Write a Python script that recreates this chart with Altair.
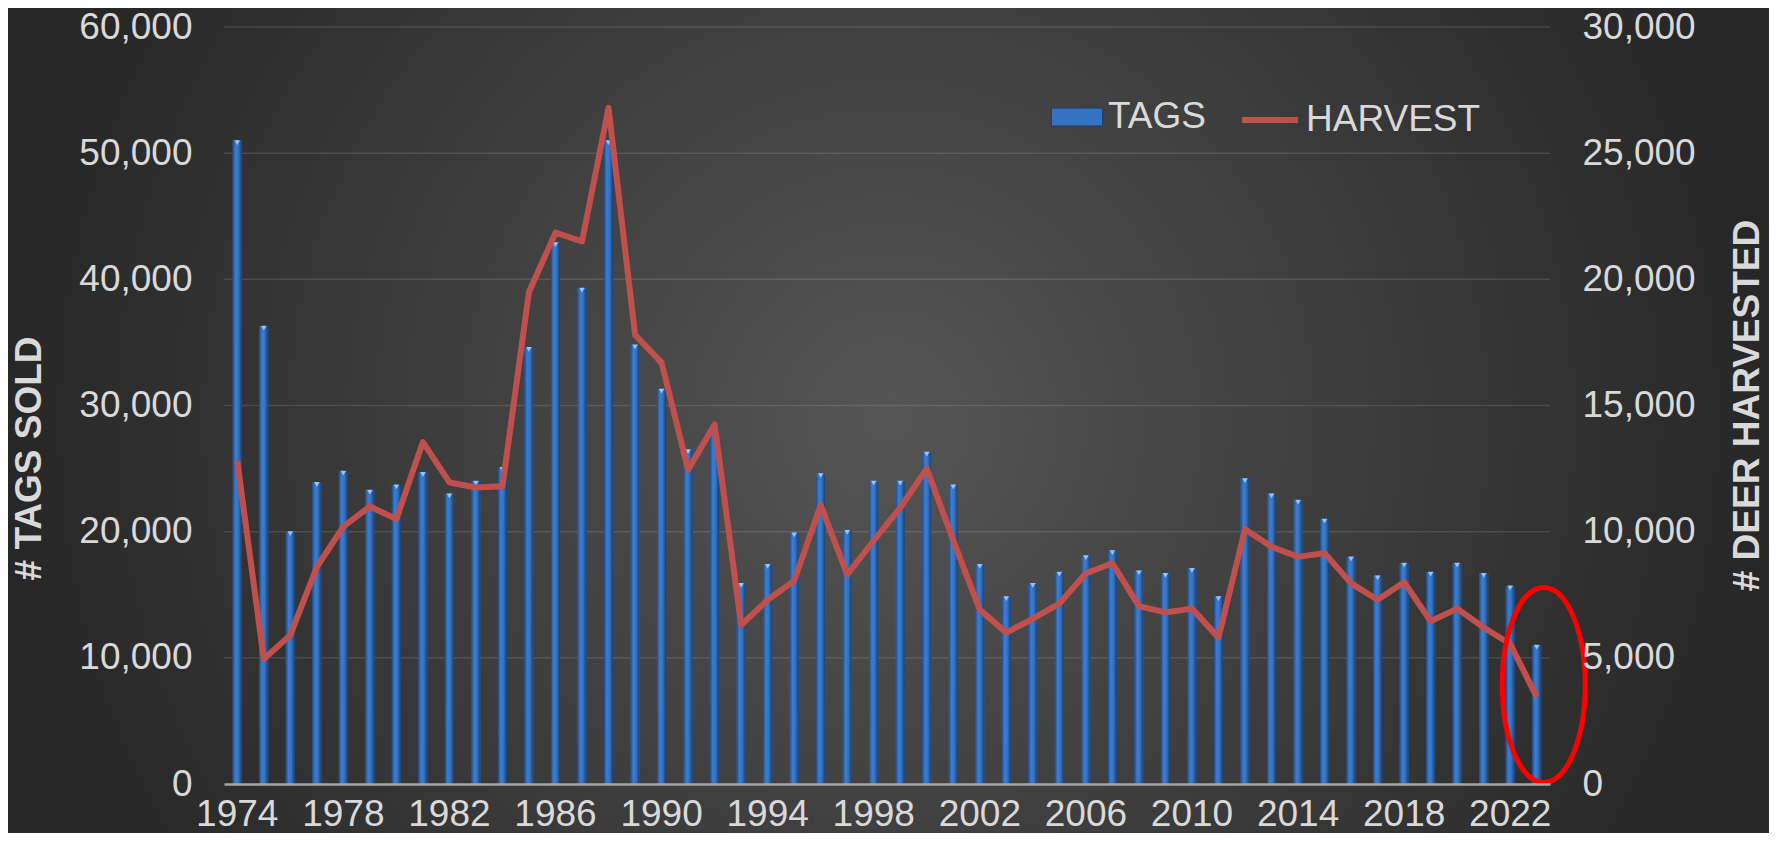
import altair as alt
import pandas as pd

# ---------------- data ----------------
years = list(range(1974, 2024))
tags = [51000, 36300, 20000, 23900, 24800, 23300, 23700, 24700, 23000, 24000,
        25100, 34600, 42900, 39300, 51000, 34800, 31300, 26500, 28200, 15900,
        17400, 19900, 24600, 20100, 24000, 24000, 26300, 23700, 17400, 14850,
        15900, 16800, 18100, 18500, 16900, 16700, 17100, 14850, 24200, 23000,
        22500, 21000, 18000, 16500, 17500, 16800, 17500, 16700, 15700, 11000]
harvest = [12800, 4950, 5900, 8600, 10200, 11000, 10500, 13550, 11950, 11750,
           11800, 19500, 21850, 21500, 26800, 17800, 16700, 12450, 14250, 6300,
           7300, 8050, 11050, 8300, 9650, 10950, 12500, 9650, 6900, 6000,
           6550, 7150, 8350, 8750, 7050, 6800, 6950, 5800, 10100, 9400,
           9000, 9150, 7950, 7300, 8000, 6450, 6950, 6200, 5550, 3450]
series_names = ["TAGS", "HARVEST"]
tags_ticks = [0, 10000, 20000, 30000, 40000, 50000, 60000]
harvest_ticks = [0, 5000, 10000, 15000, 20000, 25000, 30000]
year_labels = list(range(1974, 2023, 4))
note_year = [2023]
note_value = [3925]

df = pd.DataFrame({"year": years, "tags": tags, "harvest": harvest,
                   "s_tags": series_names[0], "s_harv": series_names[1]})
grid_df = pd.DataFrame({"v": tags_ticks[1:]})
bg_df = pd.DataFrame({"a": [0]})
note_df = pd.DataFrame({"year": note_year, "hv": note_value})

# ---------------- styling ----------------
W, H = 1326, 757
PAD = {"left": 216, "top": 19, "right": 219, "bottom": 49}
FONT = "Liberation Sans"
TXT = "#d9d9d9"
FS = 37
TAGS_DOM = [0, 60000]
HARV_DOM = [0, 30000]

bg_grad = alt.RadialGradient(
    gradient="radial", x1=0.5, y1=0.5, r1=0, x2=0.5, y2=0.5, r2=0.5,
    stops=[alt.GradientStop(offset=0, color="#555555"),
           alt.GradientStop(offset=1, color="#272727")])
bar_grad = alt.LinearGradient(
    gradient="linear", x1=0, y1=0, x2=1, y2=0,
    stops=[alt.GradientStop(offset=0, color="#1f4a85"),
           alt.GradientStop(offset=0.3, color="#3b7dd2"),
           alt.GradientStop(offset=0.6, color="#3574c4"),
           alt.GradientStop(offset=1, color="#1b3d6a")])

xscale = alt.Scale(paddingInner=0.66, paddingOuter=0.33)
x_axis = alt.Axis(values=year_labels, labelAngle=0, ticks=False, grid=False,
                  domain=True, domainColor="#a6a6a6", domainWidth=2.5,
                  labelFont=FONT, labelFontSize=FS, labelColor=TXT,
                  labelPadding=12, labelBaseline="top", title=None, zindex=1)
left_axis = alt.Axis(values=tags_ticks, format=",.0f", grid=False,
                     ticks=False, domain=False, labelFont=FONT,
                     labelFontSize=FS, labelColor=TXT, labelPadding=32,
                     title="# TAGS SOLD", titleFont=FONT, titleFontSize=FS,
                     titleFontWeight="bold", titleColor=TXT, titleAngle=270,
                     titleAlign="center", titleBaseline="middle",
                     titleX=-195, titleY=431, zindex=1)
right_axis = alt.Axis(values=harvest_ticks, format=",.0f", grid=False,
                      ticks=False, domain=False, orient="right",
                      labelFont=FONT, labelFontSize=FS, labelColor=TXT,
                      labelPadding=32, title="# DEER HARVESTED",
                      titleFont=FONT, titleFontSize=FS, titleFontWeight="bold",
                      titleColor=TXT, titleAngle=270, titleAlign="center",
                      titleBaseline="middle", titleX=197, titleY=378, zindex=1)

# ---------------- layers ----------------
background = alt.Chart(bg_df).mark_rect(color=bg_grad).encode(
    x=alt.value(-PAD["left"]), x2=alt.value(W + PAD["right"]),
    y=alt.value(-PAD["top"]), y2=alt.value(H + PAD["bottom"]))

grid = alt.Chart(grid_df).mark_rule(color="#ffffff", opacity=0.12,
                                    strokeWidth=1.5).encode(
    y=alt.Y("v:Q", scale=alt.Scale(domain=TAGS_DOM), axis=None))

bars = alt.Chart(df).mark_bar().encode(
    x=alt.X("year:O", scale=xscale, axis=x_axis),
    y=alt.Y("tags:Q", scale=alt.Scale(domain=TAGS_DOM), axis=left_axis),
    fill=alt.Fill("s_tags:N",
                  scale=alt.Scale(domain=[series_names[0]], range=["#3574c4"]),
                  legend=alt.Legend(orient="none", legendX=827, legendY=64,
                                    direction="horizontal", title=None,
                                    symbolType="M-1,-0.35H1V0.35H-1Z",
                                    symbolSize=2601, symbolStrokeColor="#1d3f6e",
                                    symbolStrokeWidth=1, labelFont=FONT,
                                    labelFontSize=FS, labelColor=TXT,
                                    labelLimit=0, labelOffset=5, padding=0)))

bars_shade = alt.Chart(df).mark_bar(color=bar_grad).encode(
    x=alt.X("year:O", scale=xscale, axis=None),
    y=alt.Y("tags:Q", scale=alt.Scale(domain=TAGS_DOM), axis=None))

caps = alt.Chart(df).mark_point(shape="triangle-down", size=30, filled=True,
                                color="#9cc3f5", opacity=1, yOffset=2).encode(
    x=alt.X("year:O", scale=xscale, axis=None),
    y=alt.Y("tags:Q", scale=alt.Scale(domain=TAGS_DOM), axis=None))

line = alt.Chart(df).mark_line(strokeWidth=6, strokeJoin="round").encode(
    x=alt.X("year:O", scale=xscale, axis=None),
    y=alt.Y("harvest:Q", scale=alt.Scale(domain=HARV_DOM), axis=right_axis),
    stroke=alt.Stroke("s_harv:N",
                      scale=alt.Scale(domain=[series_names[1]], range=["#c0504d"]),
                      legend=alt.Legend(orient="none", legendX=1015, legendY=62,
                                        direction="horizontal", title=None,
                                        symbolType="stroke", symbolSize=3136,
                                        symbolStrokeWidth=6, labelFont=FONT,
                                        labelFontSize=FS, labelColor=TXT,
                                        labelLimit=0, labelOffset=5, padding=0)))

ellipse_path = ("M0,-1C0.2351,-1,0.4256,-0.5523,0.4256,0C0.4256,0.5523,0.2351,1,0,1"
                "C-0.2351,1,-0.4256,0.5523,-0.4256,0C-0.4256,-0.5523,-0.2351,-1,0,-1Z")
note = alt.Chart(note_df).mark_point(shape=ellipse_path, size=38025, filled=False,
                                     stroke="#ff0000", color="#ff0000",
                                     strokeWidth=5, opacity=1, xOffset=7).encode(
    x=alt.X("year:O", scale=xscale, axis=None),
    y=alt.Y("hv:Q", scale=alt.Scale(domain=HARV_DOM), axis=None))

chart = alt.layer(background, grid, bars, bars_shade, caps, line, note).resolve_scale(
    y="independent", fill="independent", stroke="independent"
).resolve_axis(x="independent").properties(
    width=W, height=H, background="#272727",
    autosize=alt.AutoSizeParams(type="none"), padding=PAD
).configure_view(stroke=None)

chart.save("out.html", embed_options={"renderer": "svg", "actions": False})
